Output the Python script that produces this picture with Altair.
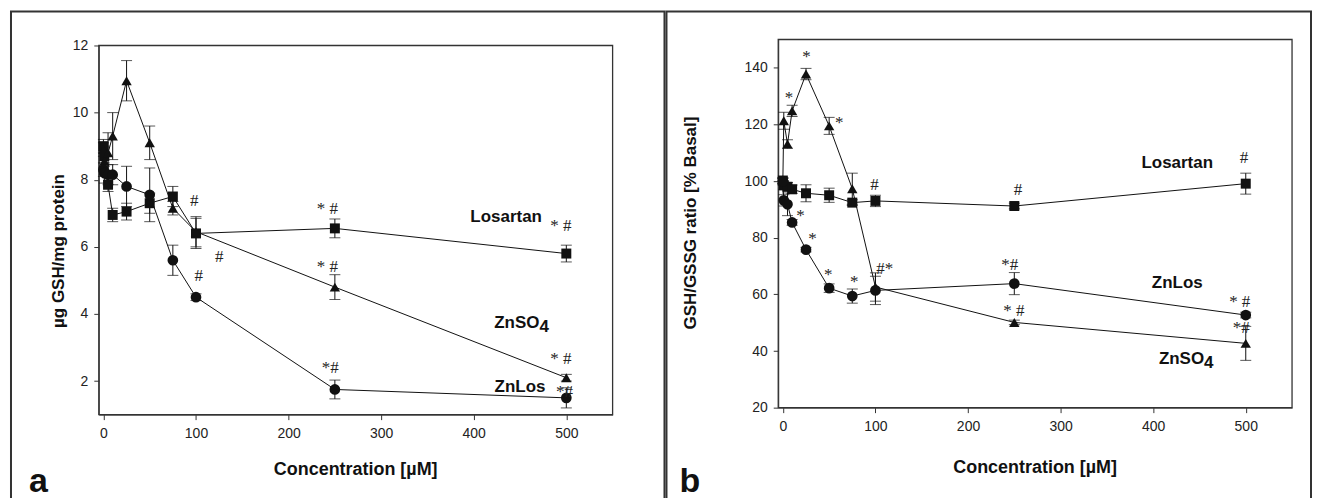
import altair as alt
import pandas as pd

conc = [0, 1, 5, 10, 25, 50, 75, 100, 250, 500]
series_names = ["Losartan", "ZnSO4", "ZnLos"]

# ---- panel a : µg GSH/mg protein ----
a_los = [9.0, 8.7, 7.85, 6.95, 7.05, 7.3, 7.5, 6.4, 6.55, 5.8]
a_los_err = [0.2, 0.3, 0.2, 0.2, 0.25, 0.3, 0.3, 0.45, 0.28, 0.25]
a_zn = [8.9, 8.55, 8.8, 9.3, 10.95, 9.1, 7.15, 6.45, 4.8, 2.1]
a_zn_err = [0.2, 0.4, 0.6, 0.7, 0.6, 0.5, 0.2, 0.45, 0.37, 0.1]
a_znlos = [8.3, 8.2, 8.15, 8.15, 7.8, 7.55, 5.6, 4.5, 1.75, 1.5]
a_znlos_err = [0.2, 0.3, 0.3, 0.3, 0.6, 0.8, 0.45, 0.1, 0.28, 0.3]

a_ann_text = ["* #", "* #", "*#", "* #", "* #", "*#", "#", "#", "#"]
a_ann_x = [242, 242, 245, 494, 494, 498, 98, 125, 103]
a_ann_y = [7.13, 5.39, 2.38, 6.63, 2.65, 1.68, 7.37, 5.71, 5.12]

a_lab_text = ["Losartan", "ZnLos"]
a_lab_x = [435, 450]
a_lab_y = [6.9, 1.83]
a_sub_x = 471
a_sub_y = 3.73

# ---- panel b : GSH/GSSG ratio [% Basal] ----
b_los = [100.2, 98.5, 98.0, 97.1, 95.7, 95.0, 92.4, 93.0, 91.2, 99.1]
b_los_err = [1.0, 1.5, 1.5, 1.5, 3.0, 2.5, 1.0, 2.0, 1.0, 3.7]
b_zn = [100.0, 121.3, 113.1, 124.8, 137.8, 119.5, 97.3, 62.6, 50.1, 42.7]
b_zn_err = [1.0, 3.0, 1.5, 2.0, 2.0, 3.0, 5.5, 5.0, 0.8, 6.0]
b_znlos = [100.0, 93.2, 91.8, 85.4, 75.8, 62.2, 59.4, 61.4, 63.8, 52.7]
b_znlos_err = [1.0, 2.0, 4.0, 1.0, 0.8, 1.5, 2.5, 5.0, 3.9, 1.0]

b_ann_text = ["*", "*", "*", "#", "#", "#", "*#", "* #", "* #", "*#",
              "*", "*", "*", "*", "#*"]
b_ann_x = [25.5, 6.5, 61, 99, 254, 498, 245, 249.5, 493.5, 495,
           19, 32, 49, 77, 110]
b_ann_y = [143.9, 129.2, 120.4, 98.6, 96.8, 108, 70.2, 54, 57.3, 48,
           87.7, 79.6, 66.7, 64.2, 68.8]

b_lab_text = ["Losartan", "ZnLos"]
b_lab_x = [426, 426]
b_lab_y = [106.4, 64.0]
b_sub_x = 455
b_sub_y = 37.1

x_ticks = [0, 100, 200, 300, 400, 500]
a_y_ticks = [2, 4, 6, 8, 10, 12]
b_y_ticks = [20, 40, 60, 80, 100, 120, 140]

FONT = "Liberation Sans"
INK = "#111111"


def long_df(los, los_e, zn, zn_e, znlos, znlos_e):
    rows = []
    for name, vals, errs in [("Losartan", los, los_e), ("ZnSO4", zn, zn_e), ("ZnLos", znlos, znlos_e)]:
        for c, v, e in zip(conc, vals, errs):
            rows.append({"conc": c, "val": v, "lo": v - e, "hi": v + e, "series": name})
    return pd.DataFrame(rows)


def panel(df, ann, labs, sub_x, sub_y, ydom, yticks, xrange, yrange, W, H,
          ytitle, ytitle_x, ytitle_y, xtitle_y, letter, letter_x):
    xs = alt.Scale(domain=[-5, 550], range=xrange, nice=False, zero=False)
    ys = alt.Scale(domain=ydom, range=yrange, nice=False, zero=False)
    xoff = -xrange[0]
    yoff = -(H - yrange[0])
    xax = alt.Axis(values=x_ticks, orient="bottom", offset=yoff, title=None, grid=False,
                   tickSize=5, labelPadding=7, labelFontSize=14, labelFont=FONT,
                   labelColor="#222", domainColor="#333", tickColor="#333")
    yax = alt.Axis(values=yticks, orient="left", offset=xoff, title=None, grid=False,
                   tickSize=5, labelPadding=6, labelFontSize=14, labelFont=FONT,
                   labelColor="#222", domainColor="#333", tickColor="#333")
    X = alt.X("conc:Q", scale=xs, axis=xax)
    Y = alt.Y("val:Q", scale=ys, axis=yax)

    base = alt.Chart(df)
    lines = base.mark_line(color=INK, strokeWidth=1).encode(x=X, y=Y, detail="series:N")
    bars = base.mark_rule(color=INK, strokeWidth=1).encode(x=X, y=alt.Y("lo:Q", scale=ys), y2="hi:Q")
    cap_lo = base.mark_tick(color=INK, orient="horizontal", size=11, thickness=1).encode(
        x=X, y=alt.Y("lo:Q", scale=ys))
    cap_hi = base.mark_tick(color=INK, orient="horizontal", size=11, thickness=1).encode(
        x=X, y=alt.Y("hi:Q", scale=ys))
    pts = base.mark_point(filled=True, color=INK, opacity=1).encode(
        x=X, y=Y,
        shape=alt.Shape("series:N", scale=alt.Scale(domain=series_names,
                        range=["square", "triangle-up", "circle"]), legend=None),
        size=alt.Size("series:N", scale=alt.Scale(domain=series_names, range=[100, 115, 75]), legend=None),
    )
    ann_l = alt.Chart(ann).mark_text(font="Liberation Serif", fontSize=17, color="#222",
                                     baseline="middle").encode(
        x=alt.X("x:Q", scale=xs), y=alt.Y("y:Q", scale=ys), text="t:N")
    lab_l = alt.Chart(labs).mark_text(font=FONT, fontSize=17, fontWeight="bold", color=INK,
                                      baseline="middle").encode(
        x=alt.X("x:Q", scale=xs), y=alt.Y("y:Q", scale=ys), text="t:N")
    subd = pd.DataFrame({"x": [sub_x], "y": [sub_y]})
    sub1 = alt.Chart(subd).mark_text(font=FONT, fontSize=17, fontWeight="bold", color=INK,
                                     baseline="middle", align="right").encode(
        x=alt.X("x:Q", scale=xs), y=alt.Y("y:Q", scale=ys), text=alt.value("ZnSO"))
    sub2 = alt.Chart(subd).mark_text(font=FONT, fontSize=17, fontWeight="bold", color=INK,
                                     baseline="middle", align="left", dy=4).encode(
        x=alt.X("x:Q", scale=xs), y=alt.Y("y:Q", scale=ys), text=alt.value("4"))
    frame = alt.Chart(pd.DataFrame({"k": [0]})).mark_rect(
        fillOpacity=0, stroke="#333", strokeWidth=1.3).encode(
        x=alt.datum(-5, scale=xs), x2=alt.datum(550),
        y=alt.datum(ydom[0], scale=ys), y2=alt.datum(ydom[1]))
    t_y = alt.Chart(pd.DataFrame({"t": [ytitle]})).mark_text(
        font=FONT, fontSize=17, fontWeight="bold", color=INK, angle=270,
        baseline="middle", align="center").encode(
        x=alt.value(ytitle_x), y=alt.value(ytitle_y), text="t:N")
    t_x = alt.Chart(pd.DataFrame({"t": ["Concentration [µM]"]})).mark_text(
        font=FONT, fontSize=18, fontWeight="bold", color=INK,
        baseline="middle", align="center").encode(
        x=alt.value((xrange[0] + xrange[1]) / 2), y=alt.value(xtitle_y), text="t:N")
    t_l = alt.Chart(pd.DataFrame({"t": [letter]})).mark_text(
        font=FONT, fontSize=34, fontWeight="bold", color=INK,
        baseline="alphabetic", align="left").encode(
        x=alt.value(letter_x), y=alt.value(482), text="t:N")
    return alt.layer(frame, lines, bars, cap_lo, cap_hi, pts, ann_l, lab_l, sub1, sub2,
                     t_y, t_x, t_l).properties(
        width=W, height=H, view=alt.ViewBackground(stroke="#333333", strokeWidth=2))


H = 492
df_a = long_df(a_los, a_los_err, a_zn, a_zn_err, a_znlos, a_znlos_err)
df_b = long_df(b_los, b_los_err, b_zn, b_zn_err, b_znlos, b_znlos_err)
ann_a = pd.DataFrame({"t": a_ann_text, "x": a_ann_x, "y": a_ann_y})
ann_b = pd.DataFrame({"t": b_ann_text, "x": b_ann_x, "y": b_ann_y})
lab_a = pd.DataFrame({"t": a_lab_text, "x": a_lab_x, "y": a_lab_y})
lab_b = pd.DataFrame({"t": b_lab_text, "x": b_lab_x, "y": b_lab_y})

pa = panel(df_a, ann_a, lab_a, a_sub_x, a_sub_y, [1, 12], a_y_ticks, [88, 603], [404, 34], 655, H,
           "µg GSH/mg protein", 48, 240, 460, "a", 18)
pb = panel(df_b, ann_b, lab_b, b_sub_x, b_sub_y, [20, 150], b_y_ticks, [112, 627], [397, 28], 646, H,
           "GSH/GSSG ratio [% Basal]", 25, 212, 457, "b", 13)

chart = alt.hconcat(pa, pb, spacing=0).properties(
    padding={"left": 2, "top": 2, "right": 0, "bottom": 0}
).configure_view(stroke="#333333", strokeWidth=2).configure(font=FONT)

chart.save("out.html", embed_options={"renderer": "svg", "actions": False})
